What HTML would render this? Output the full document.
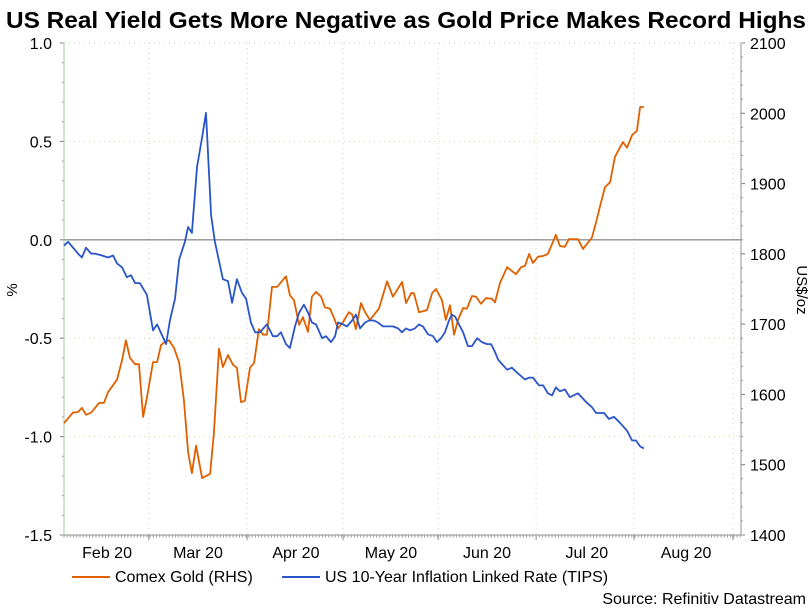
<!DOCTYPE html>
<html><head><meta charset="utf-8">
<style>
body{margin:0;background:#fff;width:812px;height:606px;overflow:hidden;font-family:"Liberation Sans",sans-serif;}
svg text{font-family:"Liberation Sans",sans-serif;}
</style></head>
<body>
<svg id="chart" width="812" height="606" viewBox="0 0 812 606" xmlns="http://www.w3.org/2000/svg">
<text x="6" y="28" textLength="800" lengthAdjust="spacingAndGlyphs" font-size="23.5" font-weight="bold" fill="#000">US Real Yield Gets More Negative as Gold Price Makes Record Highs</text>
<g id="grid"></g><g id="axes"></g><g id="series"></g>
<text x="0" y="0" transform="translate(17,290) rotate(-90)" text-anchor="middle" font-size="15">%</text>
<text x="0" y="0" transform="translate(797,290) rotate(90)" text-anchor="middle" font-size="15">US$/oz</text>
<g>
<line x1="72" y1="577" x2="110" y2="577" stroke="#e06000" stroke-width="2"/>
<text x="115" y="582" font-size="16">Comex Gold (RHS)</text>
<line x1="282" y1="577" x2="320" y2="577" stroke="#2a55c8" stroke-width="2"/>
<text x="325" y="582" font-size="16">US 10-Year Inflation Linked Rate (TIPS)</text>
</g>
<text x="806" y="604" text-anchor="end" font-size="16">Source: Refinitiv Datastream</text>
</svg>
<script>
const tipsDays=[0,1.3,4.4,5.6,6.9,8.5,9.7,11.9,13.8,15.4,16.6,18.2,19.7,21,22.3,23.8,26,27.9,29.2,32,33.2,34.8,36.1,37.9,38.9,40.1,41.7,43.3,44.5,46.1,47.3,49.8,51.4,52.7,54.2,55.8,57.1,58.6,59.9,61.4,63.6,65.5,66.8,68,69.6,70.8,72.4,73.7,75.2,76.5,77.7,79,80.9,82.1,83.7,85,85.9,87.5,88.7,90.3,91.5,92.8,94.4,95.6,97.2,98.4,100,101.6,103.1,104.7,106,107.2,108.5,110,111.3,112.5,114.1,115.7,116.9,118.2,119.4,120.7,121.6,122.6,123.5,125.1,126.6,127.9,129.5,131,132.6,133.9,135.1,136.1,138.9,140.4,141.7,144.5,145.8,147,148.9,150.2,151.7,153,154.2,155.5,157,158.6,161.1,164,165.5,166.8,169.3,170.8,172.4,174.3,176.5,178.1,179.3,180.6,181.8];
const tipsValues=[-0.03,-0.01,-0.07,-0.09,-0.04,-0.07,-0.07,-0.08,-0.09,-0.08,-0.12,-0.14,-0.19,-0.18,-0.22,-0.22,-0.28,-0.46,-0.43,-0.53,-0.41,-0.30,-0.10,-0.01,0.065,0.035,0.37,0.52,0.645,0.125,-0.01,-0.20,-0.21,-0.32,-0.20,-0.27,-0.30,-0.42,-0.47,-0.47,-0.43,-0.49,-0.49,-0.47,-0.53,-0.55,-0.44,-0.37,-0.33,-0.37,-0.42,-0.43,-0.50,-0.49,-0.52,-0.49,-0.42,-0.43,-0.44,-0.41,-0.38,-0.45,-0.42,-0.41,-0.41,-0.42,-0.44,-0.44,-0.44,-0.45,-0.47,-0.45,-0.46,-0.45,-0.43,-0.44,-0.48,-0.49,-0.52,-0.50,-0.47,-0.41,-0.38,-0.39,-0.42,-0.47,-0.54,-0.54,-0.50,-0.52,-0.53,-0.53,-0.57,-0.61,-0.66,-0.65,-0.67,-0.71,-0.70,-0.70,-0.74,-0.74,-0.78,-0.79,-0.75,-0.77,-0.76,-0.80,-0.78,-0.83,-0.85,-0.88,-0.88,-0.91,-0.90,-0.93,-0.97,-1.02,-1.02,-1.05,-1.06];
const goldDays=[0,2.8,4.4,5.6,6.9,8.5,11,12.5,13.8,16.6,18.2,19.4,20.7,22.3,23.5,24.8,26,27.9,29.2,30.4,31.7,32.9,34.5,36.1,37.6,38.9,40.1,41.4,43.3,45.8,47,48.6,49.8,51.4,53,54.2,55.5,56.7,58.3,59.6,61.1,62.4,63.6,65.2,66.8,69.6,70.8,72.1,73.7,74.9,76.5,77.7,79,80.6,81.8,83.4,84.6,85.9,87.5,89.3,90.3,91.5,93.1,94.4,95.9,98.7,101.3,103.1,106,107.2,108.8,109.7,111.3,113.8,115.4,116.6,118.5,119.7,121,122.3,123.5,125.1,126.3,127.9,129.2,130.7,132.3,134.2,135.1,136.7,138.9,141.7,143.3,144.5,145.8,147,148.6,150.2,151.7,154.2,155.5,157,158.3,161.1,162.7,165.5,166.8,168,169.6,171.2,172.7,175.2,176.5,178.1,179.6,180.6,181.8];
const goldValues=[1559,1574,1575,1581,1571,1574,1588,1588,1603,1621,1649,1677,1652,1643,1643,1568,1595,1646,1646,1670,1675,1677,1666,1645,1592,1518,1488,1527,1481,1487,1545,1665,1639,1656,1642,1638,1589,1591,1638,1645,1693,1685,1685,1753,1753,1768,1741,1734,1699,1710,1689,1739,1746,1739,1724,1722,1709,1694,1703,1717,1714,1693,1730,1717,1706,1722,1761,1739,1760,1730,1744,1744,1717,1720,1744,1750,1734,1706,1727,1685,1706,1723,1722,1740,1739,1729,1737,1736,1731,1759,1781,1771,1781,1783,1800,1787,1796,1797,1800,1827,1811,1810,1821,1821,1807,1823,1845,1867,1895,1902,1938,1959,1951,1969,1975,2009,2009];
const leftTicks=[1.0,0.5,0.0,-0.5,-1.0,-1.5];
const leftTickLabels=["1.0","0.5","0.0","-0.5","-1.0","-1.5"];
const rightTicks=[2100,2000,1900,1800,1700,1600,1500,1400];
const monthBoundaries=[26.6,57.4,87.5,117.3,148,178.7,209.7];
const monthLabelDays=[13.5,42,72.7,102.5,132.6,163.9,195];
const monthLabels=["Feb 20","Mar 20","Apr 20","May 20","Jun 20","Jul 20","Aug 20"];

const X0=64,X1=741,Y0=43,Y1=535,DAYMAX=(741-64)/3.19;
const xs=d=>X0+d*3.19;
const yL=v=>Y0+(1-v)/2.5*(Y1-Y0);
const yR=v=>Y0+(2100-v)/700*(Y1-Y0);
const NS="http://www.w3.org/2000/svg";
function mk(tag,attrs,parent){const e=document.createElementNS(NS,tag);for(const k in attrs)e.setAttribute(k,attrs[k]);parent.appendChild(e);return e;}
const grid=document.getElementById('grid'),axes=document.getElementById('axes'),series=document.getElementById('series');

leftTicks.forEach((v,i)=>{
  if(v!==0&&v!==-1.5&&v!==1.0){const g=mk('line',{x1:X0,x2:X1,y1:yL(v),y2:yL(v),stroke:'#d8d0a0','stroke-dasharray':'1,4'},grid);
  
  }
  if(v===1.0){const g=mk('line',{x1:X0,x2:X1,y1:yL(v),y2:yL(v),stroke:'#b8d0b8','stroke-dasharray':'1,4'},grid);
  
  }
  const t=mk('text',{x:52,y:yL(v)+6,'text-anchor':'end','font-size':16},axes);t.textContent=leftTickLabels[i];
  
  
  mk('line',{x1:X0-4,x2:X0,y1:yL(v),y2:yL(v),stroke:'#777'},axes);
});
for(let v=-1.5;v<=1.0001;v+=0.1){mk('line',{x1:X0-2,x2:X0,y1:yL(v),y2:yL(v),stroke:'#999'},axes);}
rightTicks.forEach(v=>{
  const t=mk('text',{x:750,y:yR(v)+6,'font-size':16},axes);t.textContent=String(v);
  
  
  mk('line',{x1:X1,x2:X1+4,y1:yR(v),y2:yR(v),stroke:'#777'},axes);
});
for(let v=1400;v<=2100;v+=20){mk('line',{x1:X1,x2:X1+2,y1:yR(v),y2:yR(v),stroke:'#999'},axes);}
monthBoundaries.forEach(d=>{
  const g=mk('line',{x1:xs(d),x2:xs(d),y1:Y0,y2:Y1,stroke:'#c0d8c0','stroke-dasharray':'1,4'},grid);
  
  
  mk('line',{x1:xs(d),x2:xs(d),y1:Y1,y2:Y1+5,stroke:'#888'},axes);
});
monthLabels.forEach((m,i)=>{
  const t=mk('text',{x:xs(monthLabelDays[i]),y:558,'text-anchor':'middle','font-size':16},axes);t.textContent=m;
  
  
});
for(let d=0;d<=DAYMAX;d+=1){mk('line',{x1:xs(d),x2:xs(d),y1:Y1,y2:Y1+2.5,stroke:'#999'},axes);}
const zl=mk('line',{x1:X0,x2:X1,y1:yL(0),y2:yL(0),stroke:'#909090','stroke-width':1.3},grid);


const la=mk('line',{x1:X0,x2:X0,y1:Y0,y2:Y1,stroke:'#a8c4a8'},axes);


const ra=mk('line',{x1:X1,x2:X1,y1:Y0,y2:Y1,stroke:'#909090'},axes);


const ba=mk('line',{x1:X0,x2:X1,y1:Y1,y2:Y1,stroke:'#909090'},axes);



const gp=mk('polyline',{points:goldDays.map((d,i)=>xs(d).toFixed(1)+','+yR(goldValues[i]).toFixed(1)).join(' '),fill:'none',stroke:'#e06000','stroke-width':1.8,'stroke-linejoin':'round'},series);


const tp=mk('polyline',{points:tipsDays.map((d,i)=>xs(d).toFixed(1)+','+yL(tipsValues[i]).toFixed(1)).join(' '),fill:'none',stroke:'#2a55c8','stroke-width':1.8,'stroke-linejoin':'round'},series);


</script>
</body></html>
